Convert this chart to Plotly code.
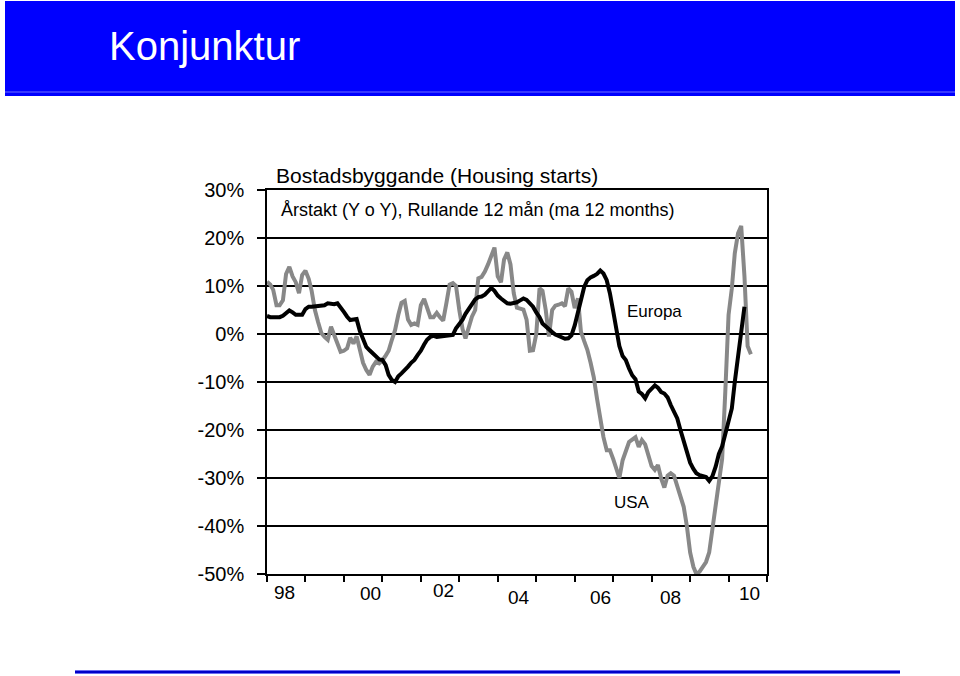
import pandas as pd
import plotly.graph_objects as go

# ---------------- data (monthly, % y/y, 12m moving average) ----------------
start_month = "1998-01-01"

usa_values = [
    10.9, 10.3, 9.2, 6.0, 6.0, 7.0, 12.5, 14.0, 12.0, 10.8, 8.5, 12.3,
    13.2, 11.5, 9.0, 5.0, 2.5, 0.2, -0.6, -1.2, 1.5, -0.2, -2.5, -3.7,
    -3.5, -3.0, -0.8, -2.0, -0.5, -3.5, -6.0, -7.5, -8.5, -6.8, -5.8, -6.1,
    -5.5, -4.5, -3.5, -1.2, 0.8, 4.0, 6.5, 6.9, 3.0, 1.9, 2.2, 1.9,
    6.0, 7.3, 5.5, 3.5, 3.5, 4.4, 3.5, 2.8, 6.5, 10.3, 10.6, 10.0,
    5.0, 1.0, -0.9, 1.5, 3.6, 5.0, 11.6, 11.9, 13.0, 14.5, 16.5, 18.0,
    12.0, 10.8, 15.5, 17.0, 14.5, 8.5, 5.5, 5.3, 5.1, 3.0, -3.5, -3.4,
    0.0, 9.5, 9.0, 5.0, -0.5, 5.0, 5.9, 6.1, 6.4, 5.8, 9.5, 8.8,
    5.4, 7.4, 0.5, -1.5, -3.3, -6.0, -9.0, -13.5, -18.0, -21.5, -24.2, -24.2,
    -26.0, -28.0, -30.0, -26.3, -24.2, -22.5, -22.0, -21.5, -23.5, -22.1, -23.0, -25.5,
    -27.5, -28.3, -27.3, -30.1, -32.0, -29.5, -29.0, -29.5, -31.5, -33.5, -36.0, -40.0,
    -45.5, -48.5, -50.0, -49.5, -48.5, -47.5, -45.5, -40.5, -35.0, -31.0, -26.0, -12.0,
    4.0, 9.5, 16.8, 21.0, 22.5, 12.0, -2.5, -4.2,
]

europa_values = [
    3.75, 3.5, 3.5, 3.5, 3.5, 3.8, 4.3, 4.9, 4.5, 4.0, 4.0, 4.0,
    5.2, 5.7, 5.7, 5.8, 6.0, 6.0, 6.0, 6.4, 6.2, 6.2, 6.4, 5.6,
    4.6, 3.6, 2.9, 3.0, 3.1, 0.6, -1.2, -2.7, -3.4, -4.0, -4.7, -5.3,
    -5.4, -6.5, -8.5, -9.6, -10.0, -8.8, -8.2, -7.6, -6.8, -6.0, -5.4, -4.4,
    -3.5, -2.2, -1.2, -0.6, -0.4, -0.6, -0.5, -0.4, -0.4, -0.4, -0.2, 1.2,
    2.0, 3.0, 4.2, 5.2, 6.0, 7.2, 7.7, 7.8, 8.2, 8.9, 9.6, 9.0,
    8.0, 7.4, 7.0, 6.4, 6.3, 6.4, 6.6, 7.0, 7.4, 7.1, 6.5, 5.7,
    4.5, 3.5, 2.2, 1.5, 0.9, 0.4, -0.1, -0.4, -0.9, -1.0, -0.9, -0.3,
    1.8, 4.5, 7.6, 9.8, 11.2, 11.8, 12.1, 12.5, 13.2, 12.6, 11.2, 8.5,
    4.8, 1.5, -2.5, -4.6, -5.4, -7.2, -8.6, -9.4, -12.0, -12.5, -13.4, -12.1,
    -11.4, -10.7, -11.2, -12.1, -12.4, -13.2, -14.8, -16.2, -17.6, -20.0, -22.5, -24.8,
    -26.8, -28.1, -29.0, -29.4, -29.6, -29.8, -30.6, -29.6, -27.6, -25.0, -23.4, -20.8,
    -18.0, -15.5, -10.0, -4.5, 1.5, 5.7,
]

y_tick_values = [30, 20, 10, 0, -10, -20, -30, -40, -50]
y_tick_labels = ["30%", "20%", "10%", "0%", "-10%", "-20%", "-30%", "-40%", "-50%"]
x_tick_years = list(range(1998, 2012))
x_tick_labels = ["98", "00", "02", "04", "06", "08", "10"]

header_title = "Konjunktur"
chart_title = "Bostadsbyggande (Housing starts)"
chart_subtitle = "Årstakt (Y o Y), Rullande 12 mån (ma 12 months)"
series_names = ["USA", "Europa"]

usa_dates = pd.date_range(start_month, periods=len(usa_values), freq="MS")
europa_dates = pd.date_range(start_month, periods=len(europa_values), freq="MS")

# ---------------- layout geometry (pixels) ----------------
W, H = 960, 676
PL, PR, PT, PB = 267, 767, 190, 574   # plot area edges


def px_x(px):
    return (px - PL) / (PR - PL)


def px_y(py):
    return (PB - py) / (PB - PT)


FONT = "Liberation Sans, Arial, sans-serif"

fig = go.Figure()
fig.add_trace(go.Scatter(x=usa_dates, y=usa_values, mode="lines", name=series_names[0],
                         line=dict(color="#888888", width=4), showlegend=False,
                         hoverinfo="skip"))
fig.add_trace(go.Scatter(x=europa_dates, y=europa_values, mode="lines", name=series_names[1],
                         line=dict(color="#000000", width=4), showlegend=False,
                         hoverinfo="skip"))

fig.update_layout(
    width=W, height=H,
    margin=dict(l=PL, r=W - PR, t=PT, b=H - PB, pad=0),
    paper_bgcolor="white", plot_bgcolor="white",
    font=dict(family=FONT, color="black"),
    xaxis=dict(
        type="date",
        range=[f"{x_tick_years[0]}-01-01", f"{x_tick_years[-1]}-01-01"],
        tickvals=[f"{y}-01-01" for y in x_tick_years],
        ticktext=["" for _ in x_tick_years],
        ticks="outside", ticklen=6, tickwidth=1.5, tickcolor="black",
        showgrid=False, zeroline=False,
        showline=True, linecolor="black", linewidth=1.5, mirror=True,
    ),
    yaxis=dict(
        range=[-50, 30],
        tickvals=y_tick_values, ticktext=y_tick_labels,
        ticks="outside", ticklen=8, tickwidth=1.5, tickcolor="black",
        ticklabelstandoff=9,
        tickfont=dict(size=20, family=FONT, color="black"),
        showgrid=True, gridcolor="black", gridwidth=1.5,
        zeroline=False,
        showline=True, linecolor="black", linewidth=1.5, mirror=True,
    ),
)

shapes = [
    # blue header band
    dict(type="rect", xref="paper", yref="paper",
         x0=px_x(5), x1=px_x(955), y0=px_y(96), y1=px_y(1),
         fillcolor="#0000FF", line=dict(width=0), layer="below"),
    dict(type="line", xref="paper", yref="paper",
         x0=px_x(5), x1=px_x(955), y0=px_y(92), y1=px_y(92),
         line=dict(color="#4a4aff", width=1.5)),
    # bottom rule
    dict(type="rect", xref="paper", yref="paper",
         x0=px_x(75), x1=px_x(900), y0=px_y(674), y1=px_y(670),
         fillcolor="#9090ff", line=dict(width=0)),
    dict(type="line", xref="paper", yref="paper",
         x0=px_x(75), x1=px_x(900), y0=px_y(672), y1=px_y(672),
         line=dict(color="#0000C8", width=2.5)),
]

annotations = [
    dict(text=header_title, xref="paper", yref="paper", x=px_x(107), y=px_y(46),
         xanchor="left", yanchor="middle", showarrow=False,
         font=dict(size=40, color="white", family=FONT)),
    dict(text=chart_title, xref="paper", yref="paper", x=px_x(274), y=px_y(175),
         xanchor="left", yanchor="middle", showarrow=False,
         font=dict(size=21, color="black", family=FONT)),
    dict(text=chart_subtitle, xref="paper", yref="paper", x=px_x(279), y=px_y(210),
         xanchor="left", yanchor="middle", showarrow=False,
         font=dict(size=18, color="black", family=FONT)),
    dict(text=series_names[1], xref="paper", yref="paper", x=px_x(654), y=px_y(311),
         xanchor="center", yanchor="middle", showarrow=False,
         font=dict(size=17, color="black", family=FONT)),
    dict(text=series_names[0], xref="paper", yref="paper", x=px_x(632), y=px_y(502),
         xanchor="center", yanchor="middle", showarrow=False,
         font=dict(size=17, color="black", family=FONT)),
]

# x labels (placed as in the original, irregular offsets)
label_px = [(284, 592), (370.5, 593), (443, 590), (518.5, 597), (600, 597), (670, 597), (749, 593)]
for lab, (lx, ly) in zip(x_tick_labels, label_px):
    annotations.append(dict(text=lab, xref="paper", yref="paper", x=px_x(lx), y=px_y(ly),
                            xanchor="center", yanchor="middle", showarrow=False,
                            font=dict(size=19, color="black", family=FONT)))

fig.update_layout(shapes=shapes, annotations=annotations)
fig.write_html(
    "out.html",
    config=dict(displayModeBar=False),
    post_script="document.body.style.margin='0';document.body.style.overflow='hidden';",
)
